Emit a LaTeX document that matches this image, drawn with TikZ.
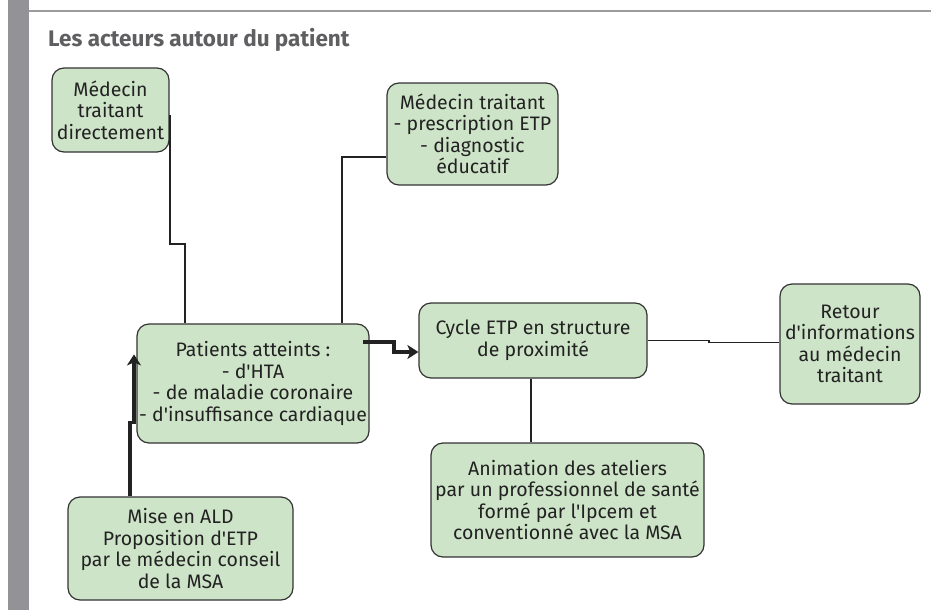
\documentclass[tikz,border=0pt]{standalone}
\usepackage{fontspec}
\setmainfont{Fira Sans}[Ligatures=TeXOff]
\usetikzlibrary{arrows.meta,calc}
\definecolor{boxfill}{RGB}{206,228,200}
\definecolor{boxline}{RGB}{51,51,51}
\definecolor{txt}{RGB}{34,34,34}
\definecolor{barg}{RGB}{147,147,151}
\definecolor{ruleg}{RGB}{155,155,158}
\definecolor{titleg}{RGB}{95,95,97}
\begin{document}
\begin{tikzpicture}[x=1pt,y=1pt,
  box/.style={draw=boxline, line width=1.2pt, fill=boxfill, rounded corners=12pt,
    align=center, text=txt, font=\fontsize{19.5}{21.5}\selectfont, inner sep=0pt},
  conn/.style={draw=txt, line width=1.9pt},
  tarrow/.style={draw=txt, line width=3.8pt, -{Stealth[length=11pt,width=14pt,inset=3pt]}}]
\useasboundingbox (0,0) rectangle (931,-610);
\fill[white] (0,0) rectangle (931,-610);
\fill[barg] (8,0) rectangle (29,-610);
\draw[ruleg, line width=2.5pt] (29,-11) -- (931,-11);
\node[anchor=base west, font=\fontsize{22.5}{22.5}\selectfont\bfseries, text=titleg, inner sep=0pt] (title) at (48,-47) {Les acteurs autour du patient};

\node[box, minimum width=117pt, minimum height=84pt] (b1) at (110.5,-110) {Médecin\\traitant\\directement};
\node[box, minimum width=171pt, minimum height=102pt] (b2) at (472.5,-134) {Médecin traitant\\- prescription ETP\\- diagnostic\\éducatif};
\node[box, minimum width=232pt, minimum height=119pt] (pat) at (253,-383.5) {Patients atteints :\\- d'HTA\\- de maladie coronaire\\- d'insuffisance cardiaque};
\node[box, minimum width=225pt, minimum height=103pt] (mise) at (180.5,-548.5) {Mise en ALD\\Proposition d'ETP\\par le médecin conseil\\de la MSA};
\node[box, minimum width=228pt, minimum height=75pt] (cyc) at (533,-340.5) {Cycle ETP en structure\\de proximité};
\node[box, minimum width=273pt, minimum height=114pt] (anim) at (567.5,-500) {Animation des ateliers\\par un professionnel de santé\\formé par l'Ipcem et\\conventionné avec la MSA};
\node[box, minimum width=140pt, minimum height=120pt] (ret) at (850,-344) {Retour\\d'informations\\au médecin\\traitant};

\draw[conn] ([yshift=-5pt]b1.east) -- ++(0,-129) -| ([xshift=-68pt]pat.north);
\draw[conn] ([yshift=-23pt]b2.west) -| ([xshift=-28pt]pat.north east);
\draw[tarrow] ([xshift=-50.5pt]mise.north) -- ++(0,74) -- ++(4,0) -- ++(0,68);
\draw[tarrow] ([xshift=-7pt,yshift=41.5pt]pat.east) -- ++(31,0) |- ([yshift=-11.5pt]cyc.west);
\draw[conn] (cyc.east) -- ++(61,0) |- ([yshift=1.5pt]ret.west);
\draw[conn] ([xshift=-2pt]cyc.south) -- ([xshift=-2pt]cyc.south |- anim.north);
\end{tikzpicture}
\end{document}
